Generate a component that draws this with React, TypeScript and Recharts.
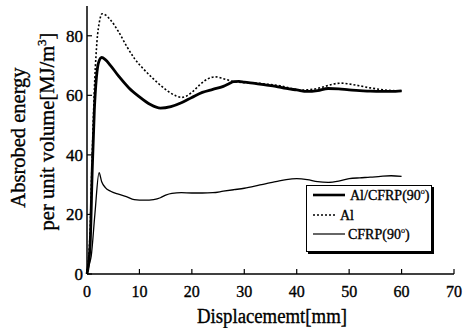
import React from 'react';
import { LineChart, Line, XAxis, YAxis } from 'recharts';

const xTicks = [0, 10, 20, 30, 40, 50, 60, 70];
const yTicks = [0, 20, 40, 60, 80];

const alCfrpX = [0, 0.6, 1.0, 1.4, 1.8, 2.2, 2.8, 3.5, 4.5, 6, 8, 10, 12, 14, 16, 18, 20, 22, 24, 26, 27, 28, 29, 30, 32, 34, 36, 38, 40, 42, 44, 46, 48, 50, 52, 54, 56, 58, 60];
const alCfrpY = [0, 10, 35, 55, 66, 71, 72.7, 72, 70, 66.5, 62.5, 59.5, 57, 55.7, 56.2, 57.5, 59.3, 61, 62, 63, 63.8, 64.6, 64.7, 64.4, 64, 63.5, 63, 62.3, 61.8, 61.3, 61.6, 62.3, 62.2, 61.8, 61.6, 61.4, 61.3, 61.3, 61.5];

const alX = [0, 0.6, 1.0, 1.5, 1.9, 2.4, 2.9, 3.5, 4.4, 6, 7.6, 9, 10.7, 12.5, 14, 15.5, 17, 18, 19, 20, 21.5, 23, 24.5, 26, 27.5, 29, 31, 33, 35, 37, 39, 41, 43, 45, 47, 48.5, 50, 52, 54, 56, 58, 60];
const alY = [0, 15, 40, 66, 78, 85, 87.4, 87, 85.5, 81.4, 76.4, 72.5, 69, 65.8, 63.4, 61.3, 59.8, 59.3, 59.8, 61, 63.5, 65.5, 66.2, 65.6, 64.8, 64.4, 64.2, 64, 63.6, 63.2, 62.3, 61.8, 62, 62.8, 63.8, 64.1, 63.8, 63.2, 62.5, 62, 61.6, 61.5];

const cfrpX = [0, 0.4, 0.8, 1.5, 2.3, 2.8, 3.5, 4.5, 6, 7.5, 9, 11, 12.7, 14, 15, 16.2, 18, 20, 22, 24, 26, 28, 30, 32, 34, 36, 38, 40, 42, 44, 46, 48, 50, 52, 54, 56, 58, 60];
const cfrpY = [0, 3, 6, 20, 34, 31, 29, 27.8, 26.8, 26, 25, 24.8, 25, 25.6, 26.5, 27.1, 27.3, 27.2, 27.2, 27.3, 27.8, 28.3, 28.8, 29.5, 30.3, 31, 31.7, 32, 31.7, 31, 30.8, 31.2, 32, 32.3, 32.5, 32.8, 33, 32.8];

const toRows = (xs: number[], ys: number[]) => xs.map((x, i) => ({ x, y: ys[i] }));

const FONT = 'Liberation Serif, DejaVu Serif, serif';
// scanned text looks heavier than plain Times, thicken it a little
const ink = { fill: '#000', stroke: '#000', strokeWidth: 0.35, fontFamily: FONT };

const XTick = (props: any) => {
  const { x, y, payload } = props;
  return (
    <g>
      <line x1={x} y1={y} x2={x} y2={y - 5} stroke="#000" strokeWidth={1.2} />
      <text x={x} y={y + 23} textAnchor="middle" fontSize={16} {...ink}>
        {payload.value}
      </text>
    </g>
  );
};

const YTick = (props: any) => {
  const { x, y, payload } = props;
  return (
    <g>
      <line x1={x} y1={y} x2={x + 5} y2={y} stroke="#000" strokeWidth={1.2} />
      <text x={x - 4} y={y + 6} textAnchor="end" fontSize={17} {...ink}>
        {payload.value}
      </text>
    </g>
  );
};

const YLabel = () => (
  <g fontSize={20.5} {...ink}>
    <text x={25} y={137.5} textAnchor="middle" transform="rotate(-90, 25, 137.5)">
      Absrobed energy
    </text>
    <text x={54} y={131.5} textAnchor="middle" transform="rotate(-90, 54, 131.5)">
      per unit volume[MJ/m<tspan dy={-8} fontSize={13}>3</tspan><tspan dy={8}>]</tspan>
    </text>
  </g>
);

const XLabel = () => (
  <text x={272} y={323} textAnchor="middle" fontSize={20} textLength={150} lengthAdjust="spacingAndGlyphs" {...ink}>
    Displacememt[mm]
  </text>
);

const legendItems = [
  { label: 'Al/CFRP(90', sup: true, width: 2.6, dash: undefined as string | undefined, y: 195, x2: 345, tx: 350 },
  { label: 'Al', sup: false, width: 1.5, dash: '2 2', y: 215, x2: 335, tx: 340 },
  { label: 'CFRP(90', sup: true, width: 1.2, dash: undefined as string | undefined, y: 234, x2: 345, tx: 348 },
];

export default function App() {
  return (
    <div style={{ position: 'absolute', left: 0, top: 0, width: 463, height: 328, background: '#fff' }}>
      <LineChart width={463} height={328} margin={{ top: 6, right: 9, left: 0, bottom: 0 }}>
        <XAxis
          dataKey="x"
          type="number"
          domain={[0, 70]}
          ticks={xTicks}
          tick={<XTick />}
          tickSize={0}
          tickMargin={0}
          height={54}
          axisLine={{ stroke: '#000', strokeWidth: 1.5 }}
          allowDuplicatedCategory={false}
          label={{ content: () => <XLabel /> }}
        />
        <XAxis
          xAxisId="top"
          orientation="top"
          type="number"
          domain={[0, 70]}
          tick={false}
          tickLine={false}
          height={0}
          axisLine={{ stroke: '#000', strokeWidth: 1.5 }}
        />
        <YAxis
          type="number"
          domain={[0, 90]}
          ticks={yTicks}
          tick={<YTick />}
          tickSize={0}
          tickMargin={0}
          width={87}
          axisLine={{ stroke: '#000', strokeWidth: 1.5 }}
          label={{ content: () => <YLabel /> }}
        />
        <YAxis
          yAxisId="right"
          orientation="right"
          type="number"
          domain={[0, 90]}
          tick={false}
          tickLine={false}
          width={0}
          axisLine={{ stroke: '#000', strokeWidth: 1.5 }}
        />
        <Line
          data={toRows(alX, alY)}
          dataKey="y"
          type="monotone"
          stroke="#000"
          strokeWidth={1.6}
          strokeDasharray="2 2"
          dot={false}
          isAnimationActive={false}
        />
        <Line
          data={toRows(cfrpX, cfrpY)}
          dataKey="y"
          type="monotone"
          stroke="#000"
          strokeWidth={1.3}
          dot={false}
          isAnimationActive={false}
        />
        <Line
          data={toRows(alCfrpX, alCfrpY)}
          dataKey="y"
          type="monotone"
          stroke="#000"
          strokeWidth={2.8}
          dot={false}
          isAnimationActive={false}
        />
      </LineChart>
      <svg width={463} height={328} style={{ position: 'absolute', left: 0, top: 0, pointerEvents: 'none' }}>
        <rect x={308} y={187} width={126} height={67} fill="#000" />
        <rect x={306.5} y={185.5} width={125} height={66} fill="#fff" stroke="#000" strokeWidth={1} />
        {legendItems.map((item) => (
          <g key={item.label}>
            <line x1={313} y1={item.y} x2={item.x2} y2={item.y} stroke="#000" strokeWidth={item.width} strokeDasharray={item.dash} />
            <text x={item.tx} y={item.y + 5} fontSize={14} {...ink}>
              {item.label}
              {item.sup && (
                <>
                  <tspan dy={-6} fontSize={8} strokeWidth={0.2}>o</tspan>
                  <tspan dy={6}>)</tspan>
                </>
              )}
            </text>
          </g>
        ))}
      </svg>
    </div>
  );
}
